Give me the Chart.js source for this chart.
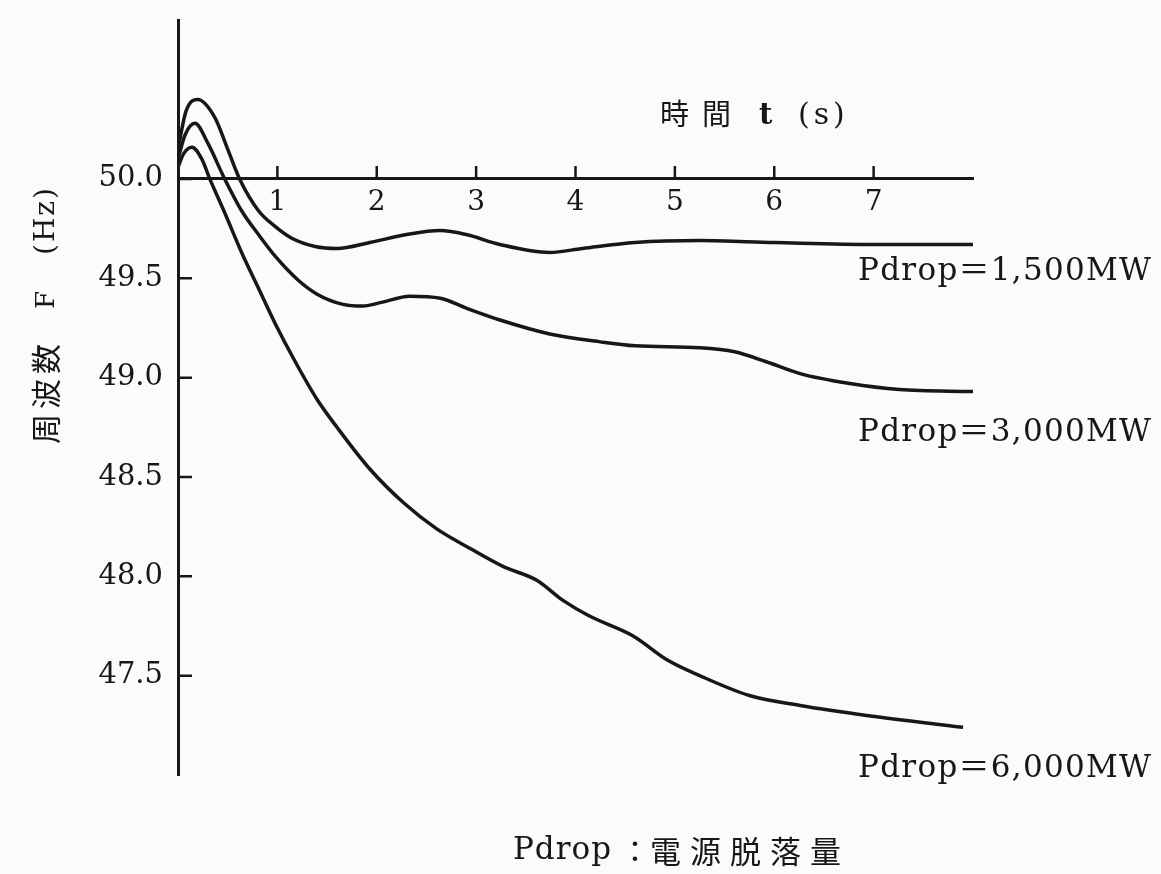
<!DOCTYPE html>
<html lang="ja">
<head>
  <meta charset="UTF-8" />
  <title>周波数 F (Hz) - Pdrop</title>
  <script src="https://cdn.jsdelivr.net/npm/chart.js"></script>
  <style>
    html, body {
      margin: 0;
      padding: 0;
      background: #fbfbfb;
    }
    #wrap {
      width: 1161px;
      height: 874px;
    }
  </style>
</head>
<body>
  <div id="wrap"><canvas id="freqChart" width="1161" height="874"></canvas></div>

  <script>
    // Pdrop = 1,500MW
    const t1500 = [0, 0.08, 0.2, 0.37, 0.5, 0.62, 0.81, 0.98, 1.15, 1.38, 1.6, 1.93, 2.3, 2.64, 2.9, 3.24, 3.74, 4.07, 4.6, 5.25, 6, 7, 8];
    const f1500 = [50.15, 50.34, 50.40, 50.31, 50.15, 50.00, 49.84, 49.76, 49.70, 49.66, 49.65, 49.68, 49.72, 49.74, 49.72, 49.67, 49.63, 49.65, 49.68, 49.69, 49.68, 49.67, 49.67];

    // Pdrop = 3,000MW
    const t3000 = [0, 0.07, 0.17, 0.3, 0.47, 0.64, 0.81, 0.98, 1.21, 1.4, 1.65, 1.86, 2.06, 2.33, 2.64, 2.9, 3.24, 3.74, 4.25, 4.6, 5.25, 5.6, 5.92, 6.26, 6.76, 7.26, 8];
    const f3000 = [50.10, 50.22, 50.28, 50.18, 50.00, 49.84, 49.72, 49.61, 49.49, 49.42, 49.37, 49.36, 49.38, 49.41, 49.40, 49.35, 49.29, 49.22, 49.18, 49.16, 49.15, 49.13, 49.08, 49.02, 48.97, 48.94, 48.93];

    // Pdrop = 6,000MW
    const t6000 = [0, 0.06, 0.14, 0.24, 0.32, 0.47, 0.64, 0.81, 0.98, 1.18, 1.4, 1.6, 1.93, 2.27, 2.6, 2.94, 3.27, 3.61, 3.87, 4.14, 4.58, 4.92, 5.25, 5.75, 6.26, 6.93, 7.9];
    const f6000 = [50.06, 50.13, 50.16, 50.10, 50.00, 49.83, 49.63, 49.45, 49.27, 49.08, 48.89, 48.75, 48.54, 48.37, 48.24, 48.14, 48.05, 47.98, 47.88, 47.80, 47.70, 47.58, 47.50, 47.40, 47.35, 47.30, 47.24];

    const xTicks = [1, 2, 3, 4, 5, 6, 7];
    const yTicks = [47.5, 48.0, 48.5, 49.0, 49.5, 50.0];

    const ink = '#171717';
    const serif = "'DejaVu Serif', 'Liberation Serif', serif";
    const cjk = "'Noto Sans CJK JP', 'Noto Sans CJK SC', sans-serif";

    function toPoints(ts, fs) {
      return ts.map((t, i) => ({ x: t, y: fs[i] }));
    }

    function lineSet(label, ts, fs) {
      return {
        label: label,
        data: toPoints(ts, fs),
        borderColor: ink,
        borderWidth: 3.5,
        pointRadius: 0,
        fill: false,
        cubicInterpolationMode: 'monotone'
      };
    }

    function put(ctx, text, x, y, font, spacing) {
      ctx.font = font;
      ctx.letterSpacing = (spacing || 0) + 'px';
      ctx.fillText(text, x, y);
    }

    // tick marks point inward (up from the time axis, right of the frequency axis),
    // plus the free text of the figure
    const decorations = {
      id: 'decorations',
      beforeDraw(chart) {
        const ctx = chart.ctx;
        ctx.save();
        ctx.fillStyle = '#fbfbfb';
        ctx.fillRect(0, 0, chart.width, chart.height);
        ctx.restore();
      },
      afterDraw(chart) {
        const { ctx, chartArea } = chart;
        const xs = chart.scales.x;
        const ys = chart.scales.y;
        const y50 = ys.getPixelForValue(50);

        ctx.save();
        ctx.strokeStyle = ink;
        ctx.lineWidth = 2.5;
        ctx.beginPath();
        xTicks.forEach(v => {
          const px = xs.getPixelForValue(v);
          ctx.moveTo(px, y50);
          ctx.lineTo(px, y50 - 13);
        });
        yTicks.forEach(v => {
          const py = ys.getPixelForValue(v);
          ctx.moveTo(chartArea.left, py);
          ctx.lineTo(chartArea.left + 14, py);
        });
        ctx.stroke();

        ctx.fillStyle = ink;
        ctx.textBaseline = 'middle';
        ctx.textAlign = 'left';

        // 時間 t (s)
        put(ctx, '時間', 660, 114, '29px ' + cjk, 13);
        put(ctx, 't', 759, 116, 'bold 29px ' + serif, 0);
        put(ctx, '(s)', 798, 116, '30px ' + serif, 4);

        // Pdrop labels
        const lab = '31px ' + serif + ', ' + cjk;
        put(ctx, 'Pdrop＝1,500MW', 858, 272, lab, 1.3);
        put(ctx, 'Pdrop＝3,000MW', 858, 433, lab, 1.3);
        put(ctx, 'Pdrop＝6,000MW', 858, 769, lab, 1.3);

        // caption
        put(ctx, 'Pdrop', 513, 851, '31px ' + serif, 1);
        put(ctx, '：', 620, 851, '30px ' + cjk, 0);
        put(ctx, '電源脱落量', 650, 851, '31px ' + cjk, 9);

        // vertical axis title
        ctx.translate(46, 444);
        ctx.rotate(-Math.PI / 2);
        put(ctx, '周波数', 0, 0, '30px ' + cjk, 5);
        put(ctx, 'F', 135, 1, '26px ' + serif, 0);
        put(ctx, '(Hz)', 189, 1, '28px ' + serif, 2);
        ctx.restore();
      }
    };

    const ctx = document.getElementById('freqChart').getContext('2d');
    new Chart(ctx, {
      type: 'line',
      data: {
        datasets: [
          lineSet('Pdrop=1,500MW', t1500, f1500),
          lineSet('Pdrop=3,000MW', t3000, f3000),
          lineSet('Pdrop=6,000MW', t6000, f6000)
        ]
      },
      options: {
        responsive: false,
        animation: false,
        layout: {
          padding: { left: 0, top: 20, right: 188, bottom: 99 }
        },
        plugins: {
          legend: { display: false },
          tooltip: { enabled: false }
        },
        scales: {
          x: {
            type: 'linear',
            min: 0,
            max: 8,
            position: { y: 50 },
            afterFit: s => {
              s.height = 0;
              s.paddingLeft = 0;
              s.paddingRight = 0;
            },
            afterBuildTicks: s => { s.ticks = xTicks.map(v => ({ value: v })); },
            grid: { display: false, drawTicks: false },
            border: { display: true, color: ink, width: 3 },
            ticks: {
              color: ink,
              padding: 7,
              maxRotation: 0,
              font: { family: serif, size: 28 },
              callback: v => String(v)
            }
          },
          y: {
            type: 'linear',
            min: 47.0,
            max: 50.8,
            position: 'left',
            afterFit: s => {
              s.width = 178;
              s.paddingTop = 0;
              s.paddingBottom = 0;
            },
            afterBuildTicks: s => { s.ticks = yTicks.map(v => ({ value: v })); },
            grid: { display: false, drawTicks: false },
            border: { display: true, color: ink, width: 3 },
            ticks: {
              color: ink,
              padding: 15,
              font: { family: serif, size: 29 },
              callback: v => Number(v).toFixed(1)
            }
          }
        }
      },
      plugins: [decorations]
    });
  </script>
</body>
</html>
